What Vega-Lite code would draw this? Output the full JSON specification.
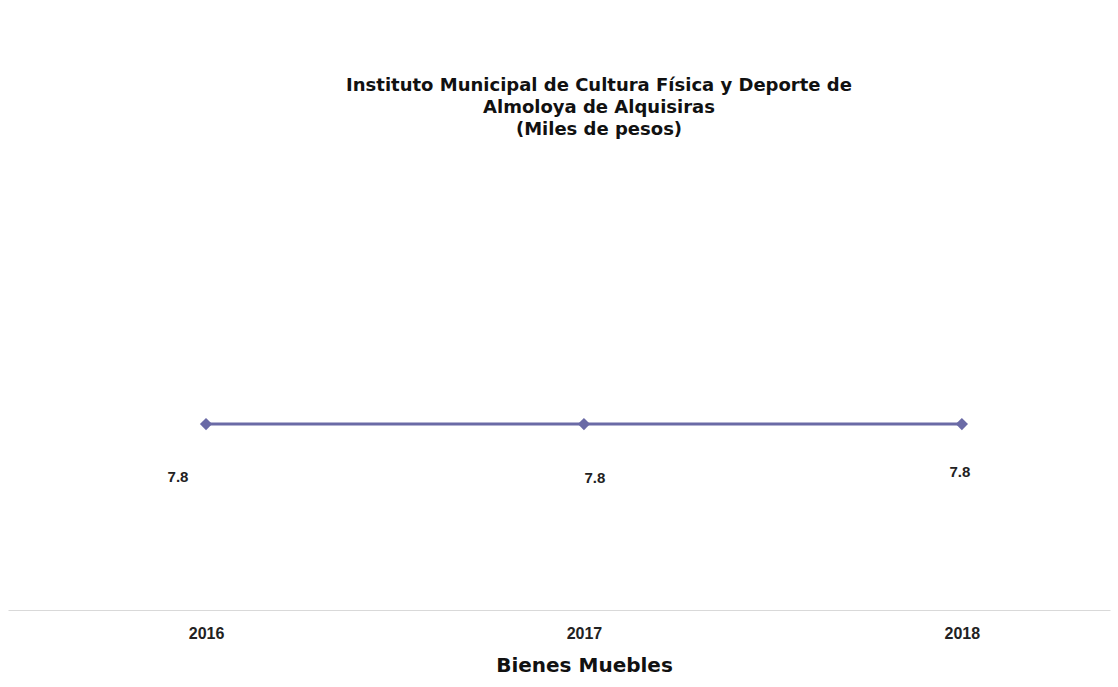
{
  "$schema": "https://vega.github.io/schema/vega-lite/v6.json",
  "autosize": {"type": "none"},
  "width": 1102,
  "height": 429.2,
  "padding": {"left": 8, "top": 180.8, "right": 8, "bottom": 77},
  "background": "white",
  "title": {
    "text": ["Instituto Municipal  de Cultura Física  y Deporte de", "Almoloya  de Alquisiras", "(Miles de pesos)"],
    "font": "DejaVu Sans",
    "fontSize": 18,
    "fontWeight": "bold",
    "color": "#111111",
    "lineHeight": 22,
    "anchor": "middle",
    "dx": 40,
    "offset": 42
  },
  "data": {
    "values": [
      {"year": 2016, "value": 7.8},
      {"year": 2017, "value": 7.8},
      {"year": 2018, "value": 7.8}
    ]
  },
  "encoding": {
    "x": {
      "field": "year",
      "type": "quantitative",
      "scale": {"domain": [2015.476, 2018.392], "nice": false, "zero": false},
      "axis": {
        "values": [2016, 2017, 2018],
        "format": "d",
        "grid": false,
        "ticks": false,
        "domainColor": "#d9d9d9",
        "domainWidth": 1,
        "labelFont": "Liberation Sans",
        "labelFontSize": 16,
        "labelFontWeight": "bold",
        "labelColor": "#222222",
        "labelPadding": 15,
        "title": "Bienes Muebles",
        "titleFont": "DejaVu Sans",
        "titleFontSize": 20,
        "titleFontWeight": "bold",
        "titleColor": "#111111",
        "titleX": 576,
        "titleY": 55,
        "titleBaseline": "middle"
      }
    },
    "y": {
      "field": "value",
      "type": "quantitative",
      "scale": {"domain": [0, 18], "nice": false},
      "axis": null
    }
  },
  "layer": [
    {
      "mark": {"type": "line", "color": "#6a6aa6", "strokeWidth": 3},
      "encoding": {}
    },
    {
      "mark": {"type": "point", "shape": "diamond", "filled": true, "color": "#6a6aa6", "size": 150, "opacity": 1},
      "encoding": {}
    },
    {
      "transform": [{"filter": "datum.year == 2016"}],
      "mark": {"type": "text", "dy": 53, "dx": -28, "font": "Liberation Sans", "fontSize": 15, "fontWeight": "bold", "color": "#222222"},
      "encoding": {"text": {"field": "value", "type": "quantitative", "format": ".1f"}}
    },
    {
      "transform": [{"filter": "datum.year == 2017"}],
      "mark": {"type": "text", "dy": 54, "dx": 11, "font": "Liberation Sans", "fontSize": 15, "fontWeight": "bold", "color": "#222222"},
      "encoding": {"text": {"field": "value", "type": "quantitative", "format": ".1f"}}
    },
    {
      "transform": [{"filter": "datum.year == 2018"}],
      "mark": {"type": "text", "dy": 48, "dx": -2, "font": "Liberation Sans", "fontSize": 15, "fontWeight": "bold", "color": "#222222"},
      "encoding": {"text": {"field": "value", "type": "quantitative", "format": ".1f"}}
    }
  ],
  "config": {"view": {"stroke": null}}
}
